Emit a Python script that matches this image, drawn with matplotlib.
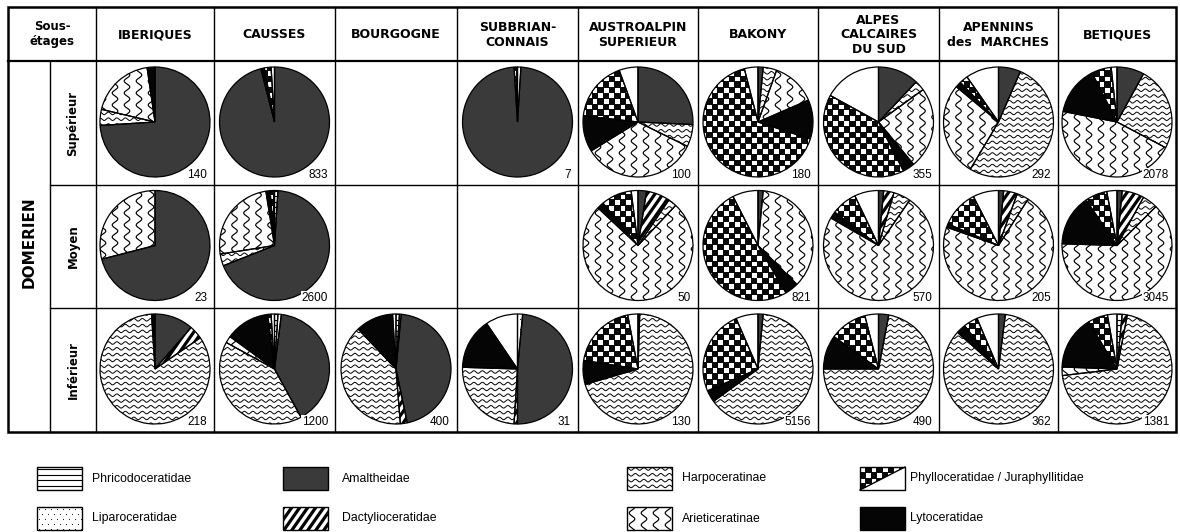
import numpy as np
import matplotlib
matplotlib.use("Agg")
import matplotlib.pyplot as plt
from matplotlib.patches import Rectangle, Polygon
from matplotlib.collections import PatchCollection

# ammonite families, in the order the wedges run clockwise from 12 o'clock
families = ["Phricodoceratidae", "Liparoceratidae", "Amaltheidae", "Dactylioceratidae",
            "Harpoceratinae", "Arieticeratinae", "Lytoceratidae", "Phylloceratidae",
            "Juraphyllitidae"]
fills = ["lines", "dots", "gray", "diag", "hwave", "vwave", "black", "checker", "white"]

regions = ["IBERIQUES", "CAUSSES", "BOURGOGNE", "SUBBRIAN-\nCONNAIS", "AUSTROALPIN\nSUPERIEUR",
           "BAKONY", "ALPES\nCALCAIRES\nDU SUD", "APENNINS\ndes  MARCHES", "BETIQUES"]
sub_stages = ["Supérieur", "Moyen", "Inférieur"]

# number of specimens per cell (None = no data)
counts_sup = [140, 833, None, 7, 100, 180, 355, 292, 2078]
counts_moy = [23, 2600, None, None, 50, 821, 570, 205, 3045]
counts_inf = [218, 1200, 400, 31, 130, 5156, 490, 362, 1381]

# percentages per family (same order as `families`)
comp_sup = [
    [0, 0, 74, 0, 4.7, 19, 2.3, 0, 0],
    [0, 0, 96, 0, 0, 0, 1, 2, 1],
    None,
    [0, 1, 98, 0, 0, 0, 0, 1, 0],
    [0, 0, 25.5, 0, 6.5, 33.6, 10.5, 17.5, 5.5],
    [0, 0, 1.5, 0, 4, 13, 11.5, 66, 4],
    [0, 0, 12, 0, 3, 24, 3.5, 40.5, 17],
    [0, 0, 6.5, 0, 52, 27.5, 1.7, 2.5, 9.7],
    [0, 0, 8, 0, 24.7, 45.3, 14.4, 5.8, 1.7],
]
comp_moy = [
    [0, 0, 71, 0, 0, 29, 0, 0, 0],
    [1, 0, 68, 0, 3.5, 25, 1.2, 1.3, 0],
    None,
    None,
    [0, 0, 2.5, 7, 2.5, 75, 2, 9, 2],
    [0, 0, 1.5, 0, 0, 36, 4, 51, 7.5],
    [0, 0, 1.5, 3, 5, 73, 2, 7.5, 7],
    [0, 0, 1.5, 4, 3.5, 71, 1, 11, 7.5],
    [0, 0, 1.5, 6.5, 4.5, 63, 15, 6.5, 3],
]
comp_inf = [
    [0, 0, 11.4, 4, 83.6, 0, 1, 0, 0],
    [1, 1, 40, 0, 41, 2, 13, 1, 1],
    [1, 0.5, 45, 2, 39, 0, 11, 0, 1],
    [0, 1.5, 48.5, 1, 24.5, 0, 15, 0, 9.5],
    [0, 0, 0.5, 0, 70, 0, 7, 19.5, 3],
    [0, 0, 1.5, 0, 63.5, 0, 3.5, 25, 6.5],
    [0, 0, 3, 0, 72, 0, 10, 11, 4],
    [0, 0, 2, 0, 84.7, 0, 2.8, 4.2, 6.4],
    [1.5, 0, 0, 1.5, 70, 2.5, 15.8, 5.8, 2.8],
]

legend_labels = ["Phricodoceratidae", "Liparoceratidae", "Amaltheidae", "Dactylioceratidae",
                 "Harpoceratinae", "Arieticeratinae", "Phylloceratidae / Juraphyllitidae",
                 "Lytoceratidae"]
legend_fills = ["lines", "dots", "gray", "diag", "hwave", "vwave", "split", "black"]

face = {"gray": "#3a3a3a", "black": "#050505", "checker": "#0a0a0a"}

fig = plt.figure(figsize=(11.8, 5.32), dpi=100)
ax = fig.add_axes([0, 0, 1, 1])


def texture(patch, style, x0, x1, y0, y1):
    arts = []
    if style == "lines":
        for y in np.arange(y0 + 2, y1, 5.5):
            arts += ax.plot([x0, x1], [y, y], color="k", lw=0.8)
    elif style == "dots":
        for k, y in enumerate(np.arange(y0 + 2, y1, 5)):
            xs = np.arange(x0 + 2 + (k % 2) * 3, x1, 6)
            arts.append(ax.scatter(xs, np.full(len(xs), y), s=0.6, c="k", lw=0))
    elif style == "hwave":
        t = np.linspace(x0, x1, 300)
        for y in np.arange(y0 + 2, y1, 5.8):
            arts += ax.plot(t, y + 1.3 * np.sin(2 * np.pi * t / 8.5), color="k", lw=0.7)
    elif style == "vwave":
        t = np.linspace(y0, y1, 300)
        for x in np.arange(x0 + 5, x1, 12):
            arts += ax.plot(x + 2.8 * np.sin(2 * np.pi * t / 12), t, color="k", lw=0.85)
    elif style == "diag":
        h = y1 - y0
        for c in np.arange(x0 - h, x1, 8):
            arts += ax.plot([c, c + h * 0.7], [y1, y0], color="k", lw=2.3)
    elif style == "checker":
        # black ground with white squares on alternate cells
        s, w = 5.6, 4.8
        rects = [Rectangle((x + (s - w) / 2, y + (s - w) / 2), w, w)
                 for i, x in enumerate(np.arange(x0, x1, s))
                 for j, y in enumerate(np.arange(y0, y1, s)) if (i + j) % 2 == 0]
        pc = PatchCollection(rects, facecolor="white", edgecolor="none")
        ax.add_collection(pc)
        arts.append(pc)
    for a in arts:
        a.set_clip_path(patch)
        a.set_zorder(3)


# table grid
xe = [8, 50, 96, 214, 335, 457, 578, 698, 818, 939, 1058, 1176]
ye = [7, 61, 185, 308, 432]
for x in xe[2:-1]:
    ax.plot([x, x], [ye[0], ye[-1]], color="k", lw=1.0)
ax.plot([xe[1], xe[1]], [ye[1], ye[-1]], color="k", lw=1.0)
for y in ye[2:-1]:
    ax.plot([xe[1], xe[-1]], [y, y], color="k", lw=1.0)
ax.plot([xe[0], xe[-1]], [ye[1], ye[1]], color="k", lw=1.6)
ax.add_patch(Rectangle((xe[0], ye[0]), xe[-1] - xe[0], ye[-1] - ye[0],
                       fill=False, edgecolor="k", lw=1.8, zorder=5))

hfont = dict(family="DejaVu Sans", weight="bold")
ax.text((xe[0] + xe[2]) / 2, (ye[0] + ye[1]) / 2, "Sous-\nétages", ha="center", va="center",
        fontsize=8.5, linespacing=1.15, **hfont)
for i, name in enumerate(regions):
    ax.text((xe[i + 2] + xe[i + 3]) / 2, (ye[0] + ye[1]) / 2 + 1, name, ha="center",
            va="center", fontsize=9, linespacing=1.15, **hfont)
ax.text((xe[0] + xe[1]) / 2, (ye[2] + ye[3]) / 2 - 4, "DOMERIEN", rotation=90,
        ha="center", va="center", fontsize=11, **hfont)
for j, st in enumerate(sub_stages):
    ax.text((xe[1] + xe[2]) / 2, (ye[j + 1] + ye[j + 2]) / 2, st, rotation=90,
            ha="center", va="center", fontsize=8.5, **hfont)

# pies
R = 55
rows = [(comp_sup, counts_sup), (comp_moy, counts_moy), (comp_inf, counts_inf)]
for j, (comps, counts) in enumerate(rows):
    cy = (ye[j + 1] + ye[j + 2]) / 2 - 1
    for i, comp in enumerate(comps):
        if comp is None:
            continue
        cx = (xe[i + 2] + xe[i + 3]) / 2
        vals = [v for v in comp if v > 0]
        styles = [fills[k] for k, v in enumerate(comp) if v > 0]
        cols = [face.get(s, "white") for s in styles]
        wedges, _ = ax.pie(vals, colors=cols, startangle=-90, counterclock=True,
                           center=(cx, cy), radius=R, frame=True,
                           wedgeprops=dict(edgecolor="none", linewidth=0))
        for w, s in zip(wedges, styles):
            w.set_zorder(2)
            texture(w, s, cx - R - 2, cx + R + 2, cy - R - 2, cy + R + 2)
        outline, _ = ax.pie(vals, startangle=-90, counterclock=True, center=(cx, cy),
                            radius=R, frame=True,
                            wedgeprops=dict(fill=False, edgecolor="k", linewidth=0.9))
        for w in outline:
            w.set_zorder(4)
        ax.text(xe[i + 3] - 7, ye[j + 2] - 10, str(counts[i]), ha="right", va="center",
                fontsize=8.5, family="Liberation Sans", zorder=6,
                bbox=dict(facecolor="white", edgecolor="none", pad=0.6))

# legend
box_x = [37, 283, 627, 860]
text_x = [92, 342, 682, 910]
box_y = [467, 507]
bw, bh = 45, 23
for n, (lab, st) in enumerate(zip(legend_labels, legend_fills)):
    c, r = n // 2, n % 2
    x0, y0 = box_x[c], box_y[r]
    if st == "split":
        tri = Polygon([(x0, y0), (x0 + bw, y0), (x0, y0 + bh)], closed=True,
                      facecolor=face["checker"], edgecolor="none")
        ax.add_patch(tri)
        texture(tri, "checker", x0, x0 + bw, y0, y0 + bh)
        ax.plot([x0, x0 + bw], [y0 + bh, y0], color="k", lw=1.0, zorder=4)
    else:
        rect = Rectangle((x0, y0), bw, bh, facecolor=face.get(st, "white"), edgecolor="none")
        ax.add_patch(rect)
        texture(rect, st, x0, x0 + bw, y0, y0 + bh)
    ax.add_patch(Rectangle((x0, y0), bw, bh, fill=False, edgecolor="k", lw=1.0, zorder=4))
    ax.text(text_x[c], y0 + bh / 2, lab, ha="left", va="center", fontsize=8.8,
            family="Liberation Sans")

ax.set_xlim(0, 1180)
ax.set_ylim(532, 0)
ax.set_aspect("auto")
ax.axis("off")
fig.savefig("out.png", dpi=100, facecolor="white")
